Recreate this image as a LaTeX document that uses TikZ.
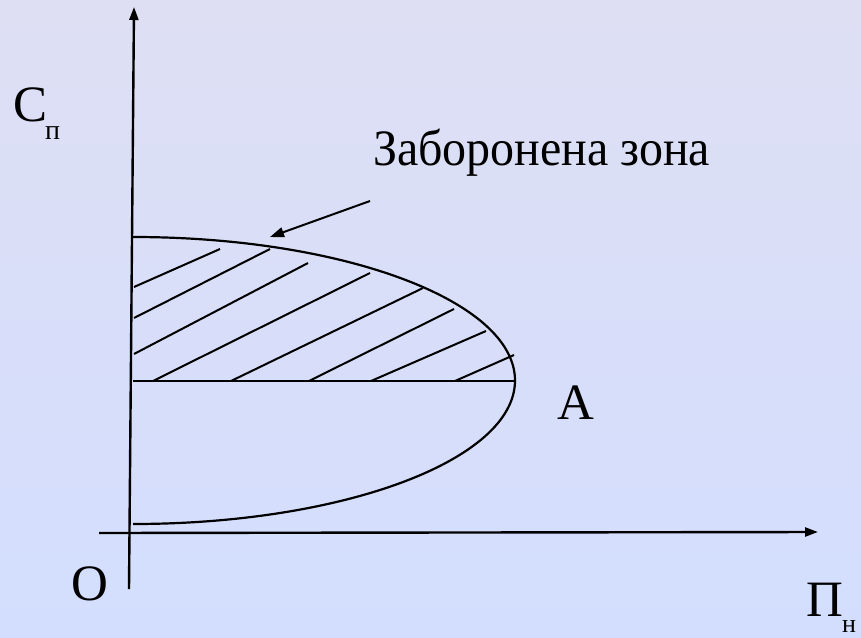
\documentclass[tikz,border=0pt]{standalone}
\usepackage{fontspec}
\setmainfont{Liberation Serif}
\newfontfamily\narrowserif[FakeStretch=0.94]{Liberation Serif}
\usetikzlibrary{arrows.meta}
\definecolor{bgtop}{RGB}{222,223,243}
\definecolor{bgbot}{RGB}{211,222,254}
\tikzset{
  curve/.style={line width=2.2pt, black},
  hatch/.style={line width=2pt, black},
  axis/.style={line width=2.4pt, black, -{Triangle[length=13pt,width=9pt]}},
  biglabel/.style={inner sep=0pt, anchor=base west, font=\fontsize{51}{55}\selectfont},
  sublabel/.style={inner sep=0pt, anchor=base west, font=\fontsize{28}{32}\selectfont},
}
\begin{document}
\begin{tikzpicture}[x=1pt,y=1pt]
\useasboundingbox (0,0) rectangle (861,-637);
\shade[top color=bgtop, bottom color=bgbot] (0,0) rectangle (861,-637);
% axes
\coordinate (yb) at (129,-589);
\coordinate (yt) at (134,-7);
\coordinate (xl) at (99,-533);
\coordinate (xr) at (818,-532);
\draw[axis] (yb) -- (yt);
\draw[axis] (xl) -- (xr);
% half ellipse
\coordinate (etop) at (133,-237);
\coordinate (eleft) at (133,-381);
\coordinate (A0) at (515,-381);
\draw[curve] (etop) arc[start angle=90, end angle=-90, x radius=382pt, y radius=143.5pt];
\draw[curve] (eleft) -- (A0);
% hatching
\foreach \a/\b/\c/\d in {134/-287/220/-249, 134/-318/270/-249, 134/-354/308/-263,
  153/-381/370/-273, 231/-381/423/-288, 309/-381/454/-309, 371/-381/486/-331, 455/-381/514/-355}
  \draw[hatch] (\a,\b) -- (\c,\d);
% labels
\node[biglabel] (cp) at (13,-121) {С};
\node[sublabel] (cps) at (45,-139) {п};
\node[biglabel, font=\fontsize{51}{55}\narrowserif] (zona) at (373,-165) {Заборонена зона};
\node[biglabel] (A) at (557,-419) {А};
\node[biglabel] (O) at (71,-600) {О};
\node[biglabel] (pn) at (806,-616) {П};
\node[sublabel, font=\fontsize{26}{30}\selectfont] (pns) at (842,-632) {н};
% pointer arrow
\coordinate (ps) at (370,-201);
\coordinate (pe) at (270,-237);
\draw[line width=2pt, -{Triangle[length=14pt,width=10pt]}] (ps) -- (pe);
\end{tikzpicture}
\end{document}
